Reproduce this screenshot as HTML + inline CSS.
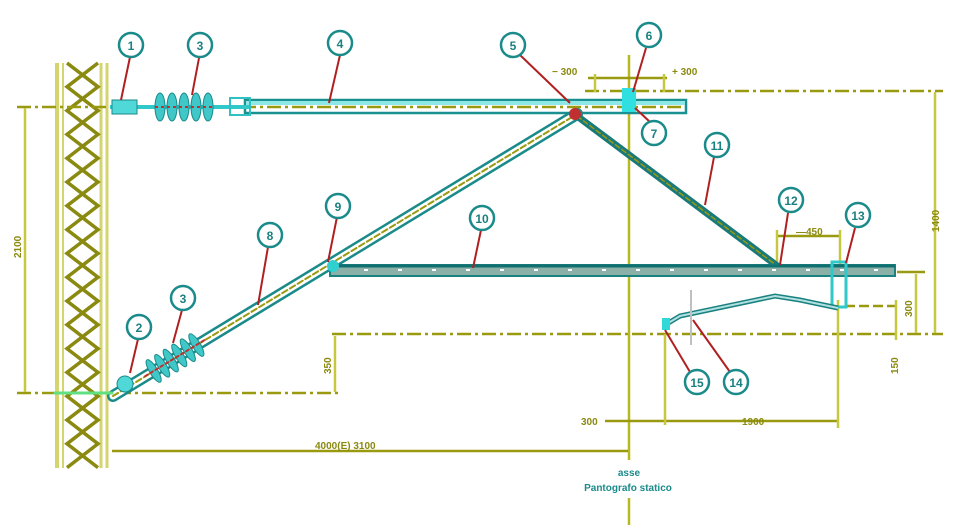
<!DOCTYPE html>
<html><head><meta charset="utf-8"><style>html,body{margin:0;padding:0;background:#fff}svg{display:block}</style></head><body>
<svg width="980" height="529" viewBox="0 0 980 529" xmlns="http://www.w3.org/2000/svg" font-family="Liberation Sans, sans-serif">
<!-- tower -->
<g stroke="#d4d470" fill="none">
<line x1="57" y1="63" x2="57" y2="468" stroke-width="4"/>
<line x1="63" y1="63" x2="63" y2="468" stroke-width="2"/>
<line x1="101" y1="63" x2="101" y2="468" stroke-width="3"/>
<line x1="107" y1="63" x2="107" y2="468" stroke-width="3"/>
</g>
<g stroke="#8a8a10" stroke-width="3.5" fill="none">
<polyline points="67,63 98,86.8 67,110.6 98,134.4 67,158.2 98,182 67,205.8 98,229.6 67,253.4 98,277.2 67,301 98,324.8 67,348.6 98,372.4 67,396.2 98,420 67,443.8 98,467.6"/>
<polyline points="98,63 67,86.8 98,110.6 67,134.4 98,158.2 67,182 98,205.8 67,229.6 98,253.4 67,277.2 98,301 67,324.8 98,348.6 67,372.4 98,396.2 67,420 98,443.8 67,467.6"/>
</g>
<!-- dimension / center lines -->
<g stroke="#9a9a10" stroke-width="2.5" fill="none">
<line x1="17" y1="107" x2="686" y2="107" stroke-dasharray="14,4,3,4"/>
<line x1="17" y1="393" x2="340" y2="393" stroke-dasharray="14,4,3,4"/>
<line x1="332" y1="334" x2="943" y2="334" stroke-dasharray="14,4,3,4"/>
<line x1="585" y1="91" x2="943" y2="91" stroke-dasharray="14,4,3,4"/>
<line x1="629" y1="55" x2="629" y2="460" stroke="#b8b820"/>
<line x1="629" y1="498" x2="629" y2="525" stroke="#b8b820"/>
<line x1="25" y1="108" x2="25" y2="392" stroke="#c8c840"/>
<line x1="335" y1="336" x2="335" y2="392" stroke="#c8c840"/>
<line x1="935" y1="92" x2="935" y2="333" stroke="#c8c840"/>
<line x1="112" y1="451" x2="628" y2="451"/>
<line x1="605" y1="421" x2="838" y2="421"/>
<line x1="665" y1="334" x2="665" y2="425" stroke="#c8c840"/>
<line x1="838" y1="300" x2="838" y2="428" stroke="#c8c840"/>
<line x1="588" y1="78" x2="667" y2="78"/>
<line x1="595" y1="74" x2="595" y2="92" stroke="#c8c840"/>
<line x1="664" y1="74" x2="664" y2="92" stroke="#c8c840"/>
<line x1="777" y1="236" x2="840" y2="236"/>
<line x1="777" y1="230" x2="777" y2="266" stroke="#c8c840"/>
<line x1="840" y1="230" x2="840" y2="266" stroke="#c8c840"/>
<line x1="897" y1="272" x2="925" y2="272"/>
<line x1="916" y1="274" x2="916" y2="333" stroke="#c8c840"/>
<line x1="845" y1="306" x2="897" y2="306" stroke-dasharray="10,4"/>
<line x1="896" y1="300" x2="896" y2="340" stroke="#c8c840"/>
</g>
<g fill="#8a8a10" font-size="10" font-weight="bold">
<text x="0" y="0" transform="translate(21,258) rotate(-90)">2100</text>
<text x="0" y="0" transform="translate(331,374) rotate(-90)">350</text>
<text x="0" y="0" transform="translate(939,232) rotate(-90)">1400</text>
<text x="0" y="0" transform="translate(912,317) rotate(-90)">300</text>
<text x="0" y="0" transform="translate(898,374) rotate(-90)">150</text>
<text x="315" y="449">4000(E) 3100</text>
<text x="581" y="425">300</text>
<text x="742" y="425">1900</text>
<text x="552" y="75">− 300</text>
<text x="672" y="75">+ 300</text>
<text x="796" y="235">—450</text>
</g>
<!-- upper tube 4 -->
<g>
<rect x="245" y="100" width="441" height="13" fill="none" stroke="#1a9090" stroke-width="2.5"/>
<rect x="246" y="101" width="439" height="4" fill="#8ee8e8"/>
<line x1="110" y1="107" x2="250" y2="107" stroke="#30c8c8" stroke-width="4"/>
<rect x="230" y="98" width="20" height="17" fill="none" stroke="#30c0c0" stroke-width="2"/>
<g fill="#40c8c8" stroke="#1a8a8a">
<ellipse cx="160" cy="107" rx="5" ry="14"/><ellipse cx="172" cy="107" rx="5" ry="14"/><ellipse cx="184" cy="107" rx="5" ry="14"/><ellipse cx="196" cy="107" rx="5" ry="14"/><ellipse cx="208" cy="107" rx="5" ry="14"/>
</g>
<line x1="155" y1="107" x2="215" y2="107" stroke="#c03030" stroke-width="2" stroke-dasharray="3,3"/>
<rect x="112" y="100" width="25" height="14" fill="#50d8d8" stroke="#1a8a8a"/>
<rect x="622" y="88" width="14" height="24" fill="#30e0e0"/>
</g>
<!-- diagonal strut -->
<g stroke-linecap="round">
<line x1="113" y1="396" x2="577" y2="114" stroke="#1a8a8a" stroke-width="12"/>
<line x1="113" y1="396" x2="577" y2="114" stroke="#ffffff" stroke-width="7"/>
<line x1="113" y1="396" x2="577" y2="114" stroke="#9a9a10" stroke-width="2" stroke-dasharray="6,3"/>
<g fill="#40c8c8" stroke="#1a8a8a" transform="rotate(-31.3 175 358)">
<ellipse cx="150" cy="358" rx="4" ry="13"/><ellipse cx="160" cy="358" rx="4" ry="13"/><ellipse cx="170" cy="358" rx="4" ry="13"/><ellipse cx="180" cy="358" rx="4" ry="13"/><ellipse cx="190" cy="358" rx="4" ry="13"/><ellipse cx="200" cy="358" rx="4" ry="13"/>
<line x1="140" y1="358" x2="210" y2="358" stroke="#c03030" stroke-width="2" stroke-dasharray="3,3"/>
</g>
<circle cx="125" cy="384" r="8" fill="#50d8d8" stroke="#1a8a8a"/>
<line x1="55" y1="393" x2="112" y2="393" stroke="#60e080" stroke-width="3"/>
<line x1="577" y1="116" x2="780" y2="268" stroke="#1a7a7a" stroke-width="7"/>
<line x1="577" y1="116" x2="780" y2="268" stroke="#9a9a10" stroke-width="1.5" stroke-dasharray="5,3"/>
<circle cx="575" cy="114" r="6" fill="#c03030"/>
</g>
<!-- lower tube 10 -->
<rect x="330" y="265" width="565" height="11" fill="#8ab0a8" stroke="#1a8080" stroke-width="2"/>
<line x1="330" y1="266" x2="895" y2="266" stroke="#107070" stroke-width="3"/>
<line x1="330" y1="270" x2="895" y2="270" stroke="#ffffff" stroke-width="2" stroke-dasharray="4,30"/>
<circle cx="333" cy="266" r="6" fill="#30d0d0"/>
<rect x="832" y="262" width="14" height="45" fill="none" stroke="#30c8c8" stroke-width="3"/>
<!-- registration arm 14 -->
<path d="M665,325 L680,316 L775,296 L800,300 L838,308" fill="none" stroke="#1a8080" stroke-width="5"/>
<path d="M665,325 L680,316 L775,296 L800,300 L838,308" fill="none" stroke="#b0e0e0" stroke-width="2"/>
<rect x="662" y="318" width="8" height="12" fill="#30d8d8"/>
<line x1="691" y1="290" x2="691" y2="345" stroke="#c0c0c0" stroke-width="2"/>
<!-- leaders -->
<g stroke="#b02020" stroke-width="2">
<line x1="130" y1="57" x2="121" y2="100"/>
<line x1="199" y1="58" x2="192" y2="95"/>
<line x1="340" y1="55" x2="329" y2="103"/>
<line x1="520" y1="55" x2="570" y2="103"/>
<line x1="646" y1="48" x2="633" y2="92"/>
<line x1="650" y1="122" x2="635" y2="108"/>
<line x1="714" y1="157" x2="705" y2="205"/>
<line x1="788" y1="213" x2="780" y2="265"/>
<line x1="855" y1="228" x2="846" y2="263"/>
<line x1="481" y1="230" x2="473" y2="268"/>
<line x1="337" y1="217" x2="328" y2="262"/>
<line x1="268" y1="247" x2="258" y2="305"/>
<line x1="182" y1="310" x2="173" y2="343"/>
<line x1="138" y1="339" x2="130" y2="373"/>
<line x1="690" y1="372" x2="665" y2="330"/>
<line x1="730" y1="372" x2="693" y2="320"/>
</g>
<!-- labels -->
<g fill="#fff" stroke="#1a8a8a" stroke-width="2.5">
<circle cx="131" cy="45" r="12"/><circle cx="200" cy="45" r="12"/><circle cx="340" cy="43" r="12"/>
<circle cx="513" cy="45" r="12"/><circle cx="649" cy="35" r="12"/><circle cx="654" cy="133" r="12"/>
<circle cx="717" cy="145" r="12"/><circle cx="791" cy="200" r="12"/><circle cx="858" cy="215" r="12"/>
<circle cx="482" cy="218" r="12"/><circle cx="338" cy="206" r="12"/><circle cx="270" cy="235" r="12"/>
<circle cx="183" cy="298" r="12"/><circle cx="139" cy="327" r="12"/><circle cx="697" cy="382" r="12"/><circle cx="736" cy="382" r="12"/>
</g>
<g fill="#1a8080" font-size="12" font-weight="bold" text-anchor="middle">
<text x="131" y="50">1</text><text x="200" y="50">3</text><text x="340" y="48">4</text>
<text x="513" y="50">5</text><text x="649" y="40">6</text><text x="654" y="138">7</text>
<text x="717" y="150">11</text><text x="791" y="205">12</text><text x="858" y="220">13</text>
<text x="482" y="223">10</text><text x="338" y="211">9</text><text x="270" y="240">8</text>
<text x="183" y="303">3</text><text x="139" y="332">2</text><text x="697" y="387">15</text><text x="736" y="387">14</text>
</g>
<g fill="#1a8a8a" font-size="10" font-weight="bold" text-anchor="middle">
<text x="629" y="476">asse</text>
<text x="628" y="491">Pantografo statico</text>
</g>
</svg>
</body></html>
